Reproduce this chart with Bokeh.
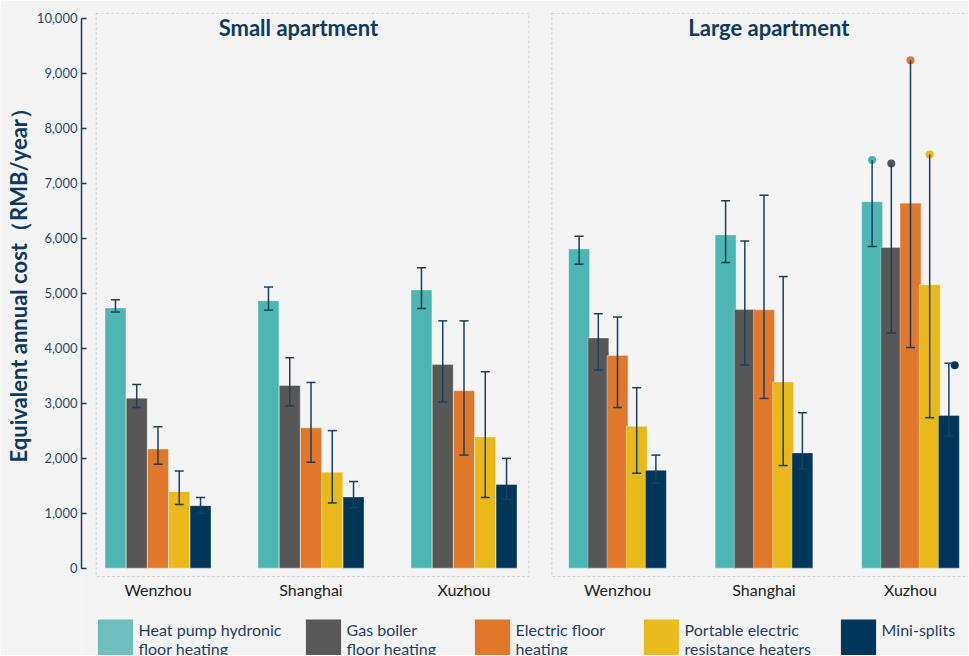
import numpy as np
from bokeh.plotting import figure
from bokeh.core.properties import value
from bokeh.models import (ColumnDataSource, Whisker, TeeHead, Label, BoxAnnotation,
                          SingleIntervalTicker, NumeralTickFormatter, Title,
                          Legend, LegendItem, Range1d)
from bokeh.embed import file_html
from bokeh.resources import INLINE

# ---------------- data ----------------
cities = ["Wenzhou", "Shanghai", "Xuzhou"]
series = ["Heat pump hydronic\nfloor heating", "Gas boiler\nfloor heating",
          "Electric floor\nheating", "Portable electric\nresistance heaters",
          "Mini-splits\n\u00a0"]
colors = ["#4db6b3", "#575757", "#e0782b", "#e9b91c", "#00365a"]
legend_colors = ["#6fbfbf", "#595959", "#e0782b", "#e9bb1e", "#00365a"]

# Small apartment (RMB/year)
small_hp = [4730, 4860, 5055]
small_gas = [3090, 3320, 3700]
small_elec = [2165, 2550, 3225]
small_port = [1390, 1745, 2385]
small_mini = [1135, 1295, 1520]
small_hp_lo = [4655, 4690, 4720]
small_gas_lo = [2920, 2950, 3020]
small_elec_lo = [1890, 1925, 2055]
small_port_lo = [1155, 1185, 1285]
small_mini_lo = [1000, 1100, 1250]
small_hp_hi = [4880, 5110, 5460]
small_gas_hi = [3340, 3825, 4495]
small_elec_hi = [2570, 3375, 4495]
small_port_hi = [1765, 2500, 3570]
small_mini_hi = [1285, 1575, 1995]

# Large apartment (RMB/year)
large_hp = [5800, 6055, 6660]
large_gas = [4185, 4700, 5830]
large_elec = [3865, 4695, 6635]
large_port = [2580, 3385, 5150]
large_mini = [1780, 2095, 2775]
large_hp_lo = [5525, 5555, 5845]
large_gas_lo = [3600, 3690, 4275]
large_elec_lo = [2920, 3085, 4010]
large_port_lo = [1725, 1865, 2735]
large_mini_lo = [1550, 1800, 2400]
large_hp_hi = [6035, 6680, 7420]
large_gas_hi = [4625, 5945, 7355]
large_elec_hi = [4565, 6780, 9230]
large_port_hi = [3280, 5300, 7520]
large_mini_hi = [2055, 2825, 3725]
# Xuzhou large-apartment extreme points
xuzhou_large_points = [7420, 7355, 9230, 7520, 3690]

small_vals = [small_hp, small_gas, small_elec, small_port, small_mini]
small_lo = [small_hp_lo, small_gas_lo, small_elec_lo, small_port_lo, small_mini_lo]
small_hi = [small_hp_hi, small_gas_hi, small_elec_hi, small_port_hi, small_mini_hi]
large_vals = [large_hp, large_gas, large_elec, large_port, large_mini]
large_lo = [large_hp_lo, large_gas_lo, large_elec_lo, large_port_lo, large_mini_lo]
large_hi = [large_hp_hi, large_gas_hi, large_elec_hi, large_port_hi, large_mini_hi]

# ---------------- layout / style ----------------
BG = "#f4f4f4"
NAVY = "#0e3a5c"
ERR = "#1b3f5e"
FONT = "Lato"

W, H = 968, 655
LEFT, TOP = 81, 12
FRAME_W = W - LEFT
FRAME_H = H - TOP
Y_TOP = 10100
PX_PER_UNIT = 565.0 / 10270.0      # vertical scale
ZERO_PX = 555.65                   # frame px (from top) of the value 0
SMALL_PX = 153.0                   # pixels per category step, small panel
LARGE_PX = 146.5                   # pixels per category step, large panel
SMALL0 = 76.5                      # frame px of first small category
LARGE0 = 536.0                     # frame px of first large category

s_start = -SMALL0 / SMALL_PX
s_end = s_start + FRAME_W / SMALL_PX
l_start = -LARGE0 / LARGE_PX
l_end = l_start + FRAME_W / LARGE_PX
y_start = -(FRAME_H - ZERO_PX) / PX_PER_UNIT

p = figure(width=W, height=H, x_range=Range1d(s_start, s_end),
           y_range=Range1d(y_start, Y_TOP),
           output_backend="svg", toolbar_location=None, x_axis_location=None,
           min_border_left=LEFT, min_border_right=0, min_border_top=TOP,
           min_border_bottom=0)
p.extra_x_ranges = {"large": Range1d(l_start, l_end)}
p.background_fill_color = BG
p.border_fill_color = BG
p.outline_line_color = None
p.grid.visible = False


def tee():
    return TeeHead(size=9, line_color=ERR, line_width=1.5)


def draw_panel(range_name, vals, lo, hi, offset, bar_w, dotted_last=False):
    idx = np.arange(len(cities))
    for k in range(5):
        xs = idx + (k - 2) * offset
        src = ColumnDataSource(dict(x=xs, top=vals[k], lower=lo[k], upper=hi[k]))
        p.vbar(x="x", top="top", width=bar_w, source=src, fill_color=colors[k],
               line_color="white", line_alpha=0.35, line_width=1, x_range_name=range_name)
        if dotted_last and k < 4:
            capped = ColumnDataSource(dict(x=xs[:2], lower=lo[k][:2], upper=hi[k][:2]))
            p.add_layout(Whisker(source=capped, base="x", lower="lower", upper="upper",
                                 x_range_name=range_name,
                                 line_color=ERR, line_width=1.5, level="overlay",
                                 upper_head=tee(), lower_head=tee()))
            open_src = ColumnDataSource(dict(x=xs[2:], lower=lo[k][2:], upper=hi[k][2:]))
            p.add_layout(Whisker(source=open_src, base="x", lower="lower", upper="upper",
                                 x_range_name=range_name,
                                 line_color=ERR, line_width=1.5, level="overlay",
                                 upper_head=None, lower_head=tee()))
        else:
            p.add_layout(Whisker(source=src, base="x", lower="lower", upper="upper",
                                 x_range_name=range_name,
                                 line_color=ERR, line_width=1.5, level="overlay",
                                 upper_head=tee(), lower_head=tee()))
        if dotted_last:
            dx = xs[2] + (0.04 if k == 4 else 0.0)
            p.scatter(x=[dx], y=[xuzhou_large_points[k]], size=8, x_range_name=range_name,
                      fill_color=colors[k], line_color=None, level="overlay")
    # category names under each group
    label_y = -(577 - TOP - ZERO_PX + 12) / PX_PER_UNIT
    p.text(x=idx, y=[label_y] * len(cities), text=cities, x_range_name=range_name,
           text_align="center", text_baseline="middle", text_font=value(FONT),
           text_font_size="16px", text_color="#222222")


draw_panel("default", small_vals, small_lo, small_hi, 0.139, 0.137)
draw_panel("large", large_vals, large_lo, large_hi, 0.131, 0.143, dotted_last=True)

# panel frames and titles
for rn, bl, br, title, tx in [("default", -0.404, 2.424, "Small apartment", 0.918),
                              ("large", -0.448, 3.0, "Large apartment", 1.033)]:
    p.add_layout(BoxAnnotation(left=bl, right=br, bottom=-152, top=10087, x_range_name=rn,
                               fill_alpha=0, line_color="#7f84a0", line_width=1,
                               line_dash="3 2"))
    p.add_layout(Label(x=tx, y=9833, text=title, x_range_name=rn, text_align="center",
                       text_baseline="middle", text_font=FONT, text_font_style="bold",
                       text_font_size="22px", text_color=NAVY))

ya = p.yaxis[0]
ya.ticker = SingleIntervalTicker(interval=1000)
ya.formatter = NumeralTickFormatter(format="0,0")
ya.bounds = (0, 10000)
ya.axis_line_color = "#1b3a57"
ya.axis_line_width = 1.5
ya.major_tick_in = 5
ya.major_tick_out = 0
ya.major_tick_line_color = "#1b3a57"
ya.major_tick_line_width = 1.5
ya.minor_tick_line_color = None
ya.major_label_standoff = 0
ya.major_label_text_font = FONT
ya.major_label_text_font_size = "13px"
ya.major_label_text_color = "#2b4a6b"

# y-axis title, placed along the 0-10,000 span of the axis
p.add_layout(Title(text="Equivalent annual cost（RMB/year）", align="left", offset=193,
                   standoff=4, text_font=FONT, text_font_style="bold",
                   text_font_size="22px", text_color=NAVY), "left")

# ---------------- legend (one block per series, below the panels) ----------------
legend_x = [11.6, 219.6, 388.6, 557.6, 754.6]
for k in range(5):
    r = p.vbar(x=[-5], top=[0], width=0.1, fill_color=legend_colors[k], line_color=None)
    lg = Legend(items=[LegendItem(label=series[k], renderers=[r])],
                location=(legend_x[k], -9), orientation="horizontal",
                glyph_width=44, glyph_height=50, label_standoff=2, padding=0, margin=0,
                border_line_color=None, background_fill_alpha=0,
                label_text_font=FONT, label_text_font_size="16px",
                label_text_color="#1f3f5f")
    p.add_layout(lg)

open("out.html", "w").write(file_html(p, INLINE))
